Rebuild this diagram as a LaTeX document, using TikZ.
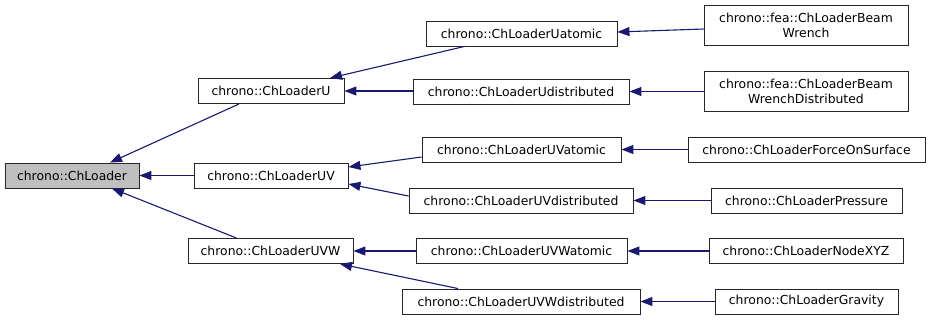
\documentclass[tikz,border=0pt]{standalone}
\usepackage{fontspec}
\setmainfont{DejaVu Sans}
\usetikzlibrary{arrows.meta,calc}
\definecolor{edgeblue}{RGB}{25,25,112}
\definecolor{basegray}{RGB}{191,191,191}
\begin{document}
\begin{tikzpicture}[x=1pt,y=-1pt,
  box/.style={draw=black!85,line width=0.9pt,fill=white,inner sep=0pt,minimum height=25pt,align=center,font=\fontsize{12.4}{15}\selectfont},
  inh/.style={draw=edgeblue,line width=1.1pt,{Triangle[length=12pt,width=9pt,fill=edgeblue]}-}]
\useasboundingbox (0,0) rectangle (931,321);
\node[box,fill=basegray,minimum width=134pt] (L) at (72,175.5) {chrono::ChLoader};
\node[box,minimum width=146pt] (U) at (271,91) {chrono::ChLoaderU};
\node[box,minimum width=154pt] (UV) at (271,175.5) {chrono::ChLoaderUV};
\node[box,minimum width=165pt] (UVW) at (270.5,251) {chrono::ChLoaderUVW};
\node[box,minimum width=191pt] (Uat) at (521.5,33.5) {chrono::ChLoaderUatomic};
\node[box,minimum width=216pt] (Ud) at (521,91.5) {chrono::ChLoaderUdistributed};
\node[box,minimum width=199pt] (UVat) at (521.5,149.5) {chrono::ChLoaderUVatomic};
\node[box,minimum width=224pt] (UVd) at (521,200.5) {chrono::ChLoaderUVdistributed};
\node[box,minimum width=211pt] (UVWat) at (521.5,251) {chrono::ChLoaderUVWatomic};
\node[box,minimum width=238pt] (UVWd) at (521,301.5) {chrono::ChLoaderUVWdistributed};
\node[box,minimum width=204pt,minimum height=40pt] (BW) at (806,25) {chrono::fea::ChLoaderBeam\\Wrench};
\node[box,minimum width=204pt,minimum height=40pt] (BWD) at (806,91) {chrono::fea::ChLoaderBeam\\WrenchDistributed};
\node[box,minimum width=237pt] (FOS) at (806.5,149.5) {chrono::ChLoaderForceOnSurface};
\node[box,minimum width=191pt] (P) at (806.5,200.5) {chrono::ChLoaderPressure};
\node[box,minimum width=194pt] (N) at (806,251) {chrono::ChLoaderNodeXYZ};
\node[box,minimum width=183pt] (G) at (806.5,301.5) {chrono::ChLoaderGravity};
\draw[inh] ($(L.north)+(38,0)$) -- ($(U.south)+(-32,0)$);
\draw[inh] (L.east) -- (UV.west);
\draw[inh] ($(L.south)+(40,0)$) -- ($(UVW.north)+(-34,0)$);
\draw[inh] ($(U.north)+(59,0)$) -- ($(Uat.south)+(-57,0)$);
\draw[inh] (U.east) -- (U.east -| Ud.west);
\draw[inh] ($(UV.east)+(0,-8.5)$) -- ($(UVat.west)+(0,7.5)$);
\draw[inh] ($(UV.east)+(0,8.5)$) -- ($(UVd.west)+(0,-4.5)$);
\draw[inh] (UVW.east) -- (UVW.east -| UVWat.west);
\draw[inh] ($(UVW.south)+(69.5,0)$) -- ($(UVWd.north)+(-63,0)$);
\draw[inh] ($(Uat.east)+(0,-1.5)$) -- ($(BW.west)+(0,4)$);
\draw[inh] (Ud.east) -- (Ud.east -| BWD.west);
\draw[inh] (UVat.east) -- (FOS.west);
\draw[inh] (UVd.east) -- (P.west);
\draw[inh] (UVWat.east) -- (N.west);
\draw[inh] (UVWd.east) -- (G.west);
\end{tikzpicture}
\end{document}
